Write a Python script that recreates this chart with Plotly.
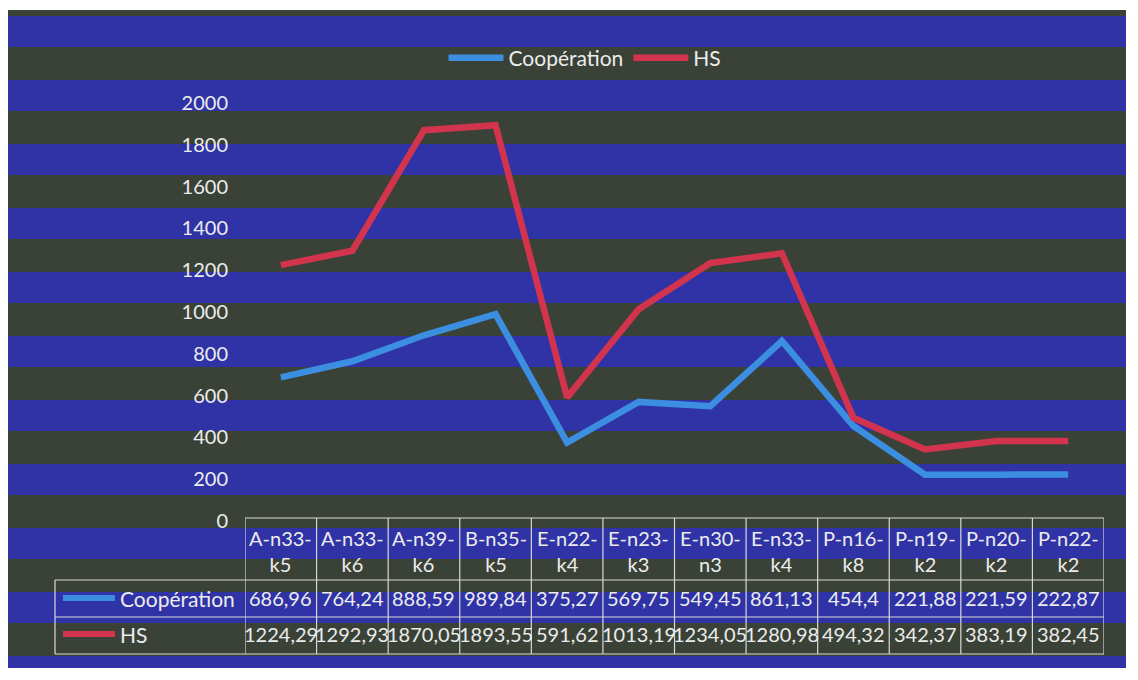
import plotly.graph_objects as go

categories = ["A-n33-k5", "A-n33-k6", "A-n39-k6", "B-n35-k5", "E-n22-k4", "E-n23-k3",
              "E-n30-n3", "E-n33-k4", "P-n16-k8", "P-n19-k2", "P-n20-k2", "P-n22-k2"]
cooperation = [686.96, 764.24, 888.59, 989.84, 375.27, 569.75, 549.45, 861.13, 454.4, 221.88, 221.59, 222.87]
hs = [1224.29, 1292.93, 1870.05, 1893.55, 591.62, 1013.19, 1234.05, 1280.98, 494.32, 342.37, 383.19, 382.45]
series_names = ["Coopération", "HS"]
y_ticks = [0, 200, 400, 600, 800, 1000, 1200, 1400, 1600, 1800, 2000]

OFF = 8  # page body margin offset
W, H = 1138, 680
PLOT_L, PLOT_R, PLOT_T, PLOT_B = 245, 1104, 103, 521  # target pixel positions
L = PLOT_L - OFF
R = W - (PLOT_R - OFF)
T = PLOT_T - OFF
B = H - (PLOT_B - OFF)
PW, PH = PLOT_R - PLOT_L, PLOT_B - PLOT_T

BLUE_BG = "#2f33a6"
DARK_BG = "#3a4237"
TXT = "#ececec"
C_COOP = "#3b8ee0"
C_HS = "#d2344d"
FONT = "Lato"


def px(x):
    return (x - PLOT_L) / PW


def py(y):
    return (PLOT_B - y) / PH


def fmt(v):
    return ("%g" % v).replace(".", ",")


fig = go.Figure()
fig.add_trace(go.Scatter(x=list(range(len(categories))), y=cooperation, mode="lines",
                         name=series_names[0], line=dict(color=C_COOP, width=6.5)))
fig.add_trace(go.Scatter(x=list(range(len(categories))), y=hs, mode="lines",
                         name=series_names[1], line=dict(color=C_HS, width=6.5)))

shapes = []
# background (scanned chart area)
shapes.append(dict(type="rect", xref="paper", yref="paper", x0=px(8), x1=px(1126), y0=py(668), y1=py(10),
                   fillcolor=DARK_BG, line=dict(width=0), layer="below"))
start = 16
while start < 668:
    y0, y1 = start, min(start + 31, 668)
    shapes.append(dict(type="rect", xref="paper", yref="paper", x0=px(8), x1=px(1126), y0=py(y1), y1=py(y0),
                       fillcolor=BLUE_BG, line=dict(width=0), layer="below"))
    start += 64

grid = dict(color="#d8d8d8", width=1.2)
n = len(categories)
# table grid
for k in range(n + 1):
    shapes.append(dict(type="line", xref="x", yref="paper", x0=k - 0.5, x1=k - 0.5, y0=py(518), y1=py(654), line=grid))
shapes.append(dict(type="line", xref="x", yref="paper", x0=-0.5, x1=n - 0.5, y0=py(518), y1=py(518), line=grid))
for yy in (580, 617, 654):
    shapes.append(dict(type="line", xref="paper", yref="paper", x0=px(55), x1=1, y0=py(yy), y1=py(yy), line=grid))
shapes.append(dict(type="line", xref="paper", yref="paper", x0=px(55), x1=px(55), y0=py(580), y1=py(654), line=grid))
# legend keys in table
shapes.append(dict(type="line", xref="paper", yref="paper", x0=px(63), x1=px(115), y0=py(598), y1=py(598),
                   line=dict(color=C_COOP, width=6)))
shapes.append(dict(type="line", xref="paper", yref="paper", x0=px(63), x1=px(115), y0=py(634), y1=py(634),
                   line=dict(color=C_HS, width=6)))

ann = []
f = dict(family=FONT, size=20, color=TXT)
for i, c in enumerate(categories):
    parts = c.split("-")
    label = "-".join(parts[:2]) + "-<br>" + parts[2]
    ann.append(dict(x=i, y=py(524), xref="x", yref="paper", text=label, showarrow=False,
                    xanchor="center", yanchor="top", font=f))
    ann.append(dict(x=i, y=py(598), xref="x", yref="paper", text=fmt(cooperation[i]), showarrow=False,
                    xanchor="center", yanchor="middle", font=f))
    ann.append(dict(x=i, y=py(634), xref="x", yref="paper", text=fmt(hs[i]), showarrow=False,
                    xanchor="center", yanchor="middle", font=f))
ann.append(dict(x=px(118), y=py(598), xref="paper", yref="paper", text=series_names[0], showarrow=False,
                xanchor="left", yanchor="middle", font=dict(family=FONT, size=21, color=TXT)))
ann.append(dict(x=px(118), y=py(634), xref="paper", yref="paper", text=series_names[1], showarrow=False,
                xanchor="left", yanchor="middle", font=dict(family=FONT, size=21, color=TXT)))

fig.update_layout(
    width=W, height=H,
    margin=dict(l=L, r=R, t=T, b=B),
    paper_bgcolor="white",
    plot_bgcolor="rgba(0,0,0,0)",
    font=dict(family=FONT, size=20, color=TXT),
    showlegend=True,
    legend=dict(orientation="h", x=px(585), xanchor="center", y=py(58), yanchor="middle",
                itemwidth=55, bgcolor="rgba(0,0,0,0)", font=dict(family=FONT, size=21, color=TXT)),
    xaxis=dict(range=[-0.5, n - 0.5], showgrid=False, zeroline=False, showticklabels=False,
               showline=False, fixedrange=True),
    yaxis=dict(range=[0, 2000], tickvals=y_ticks, tickformat="d", showgrid=False, zeroline=False,
               showline=False, ticks="", ticklabelstandoff=16, tickfont=dict(family=FONT, size=20, color=TXT)),
    shapes=shapes,
    annotations=ann,
)

fig.write_html("out.html")
